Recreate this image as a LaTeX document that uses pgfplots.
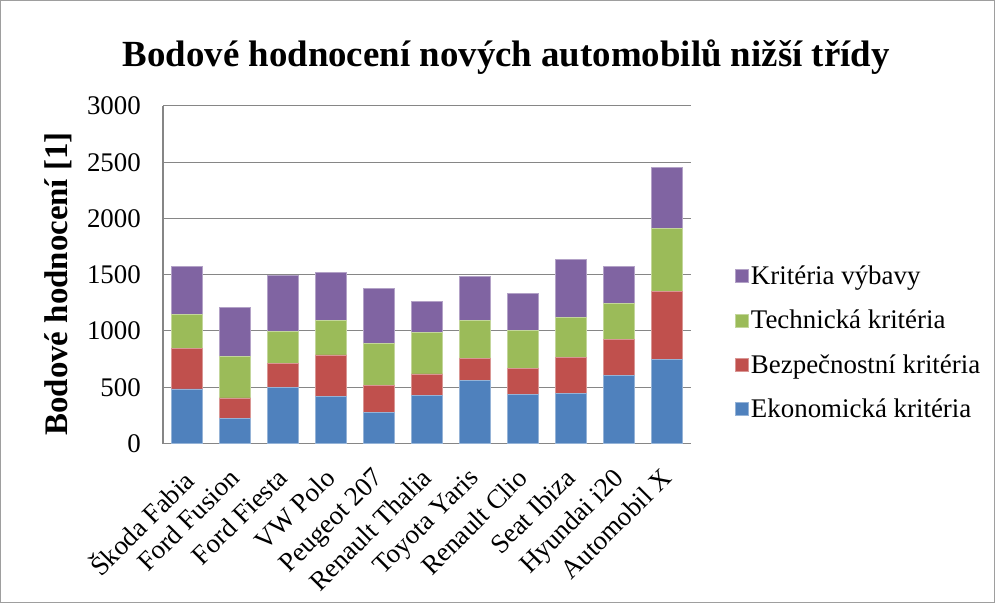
\documentclass[border=0pt]{standalone}
\usepackage{fontspec}
\setmainfont{Liberation Serif}
\usepackage{pgfplots}
\usepackage{pgfplotstable}
\pgfplotsset{compat=1.18}

\definecolor{cBlue}{HTML}{4F81BD}
\definecolor{cRed}{HTML}{C0504D}
\definecolor{cGreen}{HTML}{9BBB59}
\definecolor{cPurple}{HTML}{8064A2}
\definecolor{cAxis}{HTML}{868686}

% x  ekonomicka  bezpecnostni  technicka  vybava
\pgfplotstableread{
x eko bez tech vyb
0 486 356 302 430
1 222 184 368 438
2 501 210 285 498
3 418 370 303 430
4 273 240 379 486
5 427 192 365 279
6 563 190 341 394
7 436 228 344 323
8 442 320 358 519
9 605 323 317 332
10 744 605 566 536
}\cars

\begin{document}
\begin{tikzpicture}
\useasboundingbox (0,0) rectangle (995bp,603bp);
\draw[cAxis!80, line width=1bp] (0.5bp,0.5bp) rectangle (994bp,602bp);
\begin{axis}[
    at={(163bp,159.5bp)}, anchor=south west,
    scale only axis, width=528bp, height=337.5bp,
    ybar stacked, bar width=0.65,
    xmin=-0.5, xmax=10.5, ymin=0, ymax=3000,
    ytick={0,500,...,3000},
    xtick={0,...,10},
    xticklabels={Škoda Fabia, Ford Fusion, Ford Fiesta, VW Polo, Peugeot 207,
      Renault Thalia, Toyota Yaris, Renault Clio, Seat Ibiza, Hyundai i20, Automobil X},
    /pgf/number format/assume math mode=true,
    /pgf/number format/1000 sep={},
    major tick length=0pt,
    axis x line*=bottom, axis y line*=left,
    axis line style={cAxis, line width=1.2bp, -},
    ymajorgrids, major grid style={cAxis, line width=1bp},
    tick label style={font=\fontsize{27}{31}\selectfont},
    yticklabel style={inner sep=0pt, xshift=-22bp},
    xticklabel style={rotate=45, anchor=north east, inner sep=0pt, yshift=-11bp, xshift=-21.5bp},
    title={Bodové hodnocení nových automobilů nižší třídy},
    title style={font=\bfseries\fontsize{37}{42}\selectfont, at={(0.65,1.127)}, anchor=center},
    ylabel={Bodové hodnocení [1]},
    ylabel style={font=\bfseries\fontsize{33}{38}\selectfont, at={(-0.199,0.4726)}, anchor=center},
    legend style={draw=none, fill=none, at={(1.078,0.538)}, anchor=north west,
      font=\fontsize{27}{31}\selectfont, row sep=20bp, cells={anchor=west}},
    reverse legend,
    legend image code/.code={\fill[#1] (0bp,-6.5bp) rectangle (13bp,6.5bp);},
]
\addplot[fill=cBlue, draw=cBlue!60!white, line width=0.6bp] table[x=x, y=eko] {\cars};
\addplot[fill=cRed, draw=cRed!60!white, line width=0.6bp] table[x=x, y=bez] {\cars};
\addplot[fill=cGreen, draw=cGreen!60!white, line width=0.6bp] table[x=x, y=tech] {\cars};
\addplot[fill=cPurple, draw=cPurple!60!white, line width=0.6bp] table[x=x, y=vyb] {\cars};
\legend{Ekonomická kritéria, Bezpečnostní kritéria, Technická kritéria, Kritéria výbavy}
\end{axis}
\end{tikzpicture}
\end{document}
